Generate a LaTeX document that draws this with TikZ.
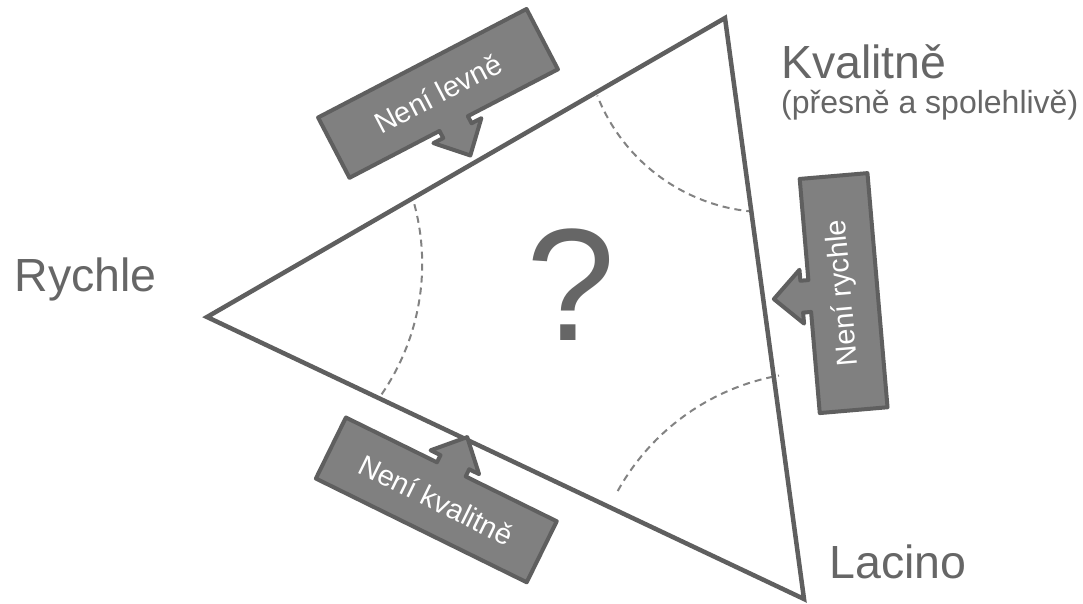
\documentclass[tikz,border=0pt]{standalone}
\usepackage{fontspec}
\setmainfont{Liberation Sans}
\usepackage{tikz}
\usetikzlibrary{positioning}

\definecolor{edgegray}{RGB}{95,95,95}
\definecolor{fillgray}{RGB}{128,128,128}
\definecolor{textgray}{RGB}{102,102,102}
\definecolor{dashgray}{RGB}{130,130,130}

\begin{document}
\begin{tikzpicture}[x=1pt,y=-1pt,
	bignode/.style={text=textgray,font=\fontsize{46.5}{50}\selectfont,inner sep=0pt,anchor=base west},
	smallnode/.style={text=textgray,font=\fontsize{32}{36}\selectfont,inner sep=0pt,anchor=base west},
	boxtext/.style={text=white,font=\fontsize{29}{34}\selectfont,inner sep=0pt},
	calloutbox/.style={draw=edgegray,fill=fillgray,line width=4pt,line join=round},
	sideline/.style={draw=edgegray,line width=4.5pt},
	arcline/.style={draw=dashgray,line width=2pt,dash pattern=on 7pt off 5pt}]
	
	\useasboundingbox (0,0) rectangle (1083,604);
	
	% corners of the triangle
	\coordinate (r) at (207,317);
	\coordinate (k) at (725,18);
	\coordinate (l) at (804,599);
	
	\node [bignode] (rychle) at (14.5,291) {Rychle};
	\node [bignode] (kvalitne) at (781,79) {Kvalitně};
	\node [smallnode] (presne) at (781,114) {(přesně a spolehlivě)};
	\node [bignode] (lacino) at (829.5,578) {Lacino};
	\node [text=textgray,font=\fontsize{160}{170}\selectfont,inner sep=0pt,anchor=base] (otaznik) at (571,340) {?};
	
	% dashed arcs at the corners
	\draw[arcline] plot[domain=-15:35.5,variable=\t,samples=40] ({192.1+230.1*cos(\t)},{263.8+230.1*sin(\t)});
	\draw[arcline] plot[domain=94.8:158.5,variable=\t,samples=40] ({768.6+184.2*cos(\t)},{28.1+184.2*sin(\t)});
	\draw[arcline] plot[domain=209:259.8,variable=\t,samples=40] ({819.9+231.2*cos(\t)},{603.1+231.2*sin(\t)});
	
	\draw[sideline] (r) -- (k) -- (l) -- cycle;
	
	% Neni levne
	\begin{scope}[shift={(438,93.4)},rotate=27.5]
		\draw[calloutbox] (-117.5,-34) -- (117.5,-34) -- (117.5,34) -- (16,34) -- (16,42) -- (27,42) -- (0,70) -- (-27,42) -- (-16,42) -- (-16,34) -- (-117.5,34) -- cycle;
		\node [boxtext,rotate=27.5] (levne) at (0,0) {Není levně};
	\end{scope}
	
	% Neni kvalitne
	\begin{scope}[shift={(436.3,499.9)},rotate=-26.2]
		\draw[calloutbox] (-117.5,34) -- (117.5,34) -- (117.5,-34) -- (16,-34) -- (16,-42) -- (27,-42) -- (0,-70) -- (-27,-42) -- (-16,-42) -- (-16,-34) -- (-117.5,-34) -- cycle;
		\node [boxtext,rotate=-26.2] (nekvalitne) at (0,0) {Není kvalitně};
	\end{scope}
	
	% Neni rychle
	\begin{scope}[shift={(843.6,293.1)},rotate=94.9]
		\draw[calloutbox] (-117.5,34) -- (117.5,34) -- (117.5,-34) -- (16,-34) -- (16,-42) -- (27,-42) -- (0,-70) -- (-27,-42) -- (-16,-42) -- (-16,-34) -- (-117.5,-34) -- cycle;
		\node [boxtext,rotate=94.9] (nerychle) at (0,0) {Není rychle};
	\end{scope}
\end{tikzpicture}
\end{document}
